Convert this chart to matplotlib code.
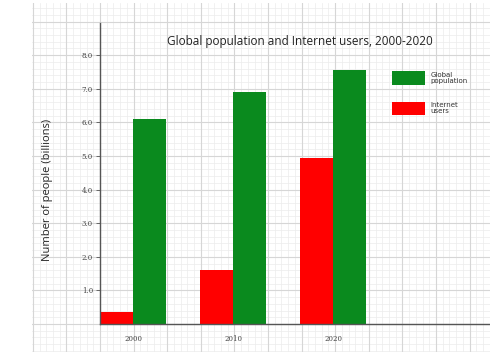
import numpy as np
import matplotlib as mpl
mpl.use('Agg')
import matplotlib.pyplot as plt

# data
years = ["2000", "2010", "2020"]
internet_users = [0.36, 1.6, 4.95]
global_population = [6.1, 6.9, 7.55]
yticks = [1.0, 2.0, 3.0, 4.0, 5.0, 6.0, 7.0, 8.0]

W, H = 490, 352
fig = plt.figure(figsize=(W / 100, H / 100), dpi=100)

# graph-paper background, in pixel units
bg = fig.add_axes([32 / W, 0, 1 - 32 / W, 349 / H])
bg.set_xlim(32, W)
bg.set_ylim(H, 3)
bg.axis('off')
step = 33.6
for k in range(-10, 80):
    x = 100 + k * step / 5
    major = k % 5 == 0
    col = '#d6d6d6' if major else '#ececec'
    lw = 0.8 if major else 0.5
    if 32 <= x <= W:
        bg.axvline(x, color=col, lw=lw, zorder=1 if major else 0)
for k in range(-60, 20):
    y = 324 + k * step / 5
    major = k % 5 == 0
    col = '#d6d6d6' if major else '#ececec'
    lw = 0.8 if major else 0.5
    if 3 <= y <= H:
        bg.axhline(y, color=col, lw=lw, zorder=1 if major else 0)

# main chart
ax = fig.add_axes([100 / W, (H - 324) / H, (W - 100) / W, 301 / H])
ax.patch.set_alpha(0)
x = np.arange(len(years))
w = 0.33
ax.bar(x - w / 2, internet_users, w, color='#ff0000', label='Internet\nusers')
ax.bar(x + w / 2, global_population, w, color='#0a8a1e', label='Global\npopulation')
ax.set_xlim(-w, -w + 3.9)
ax.set_ylim(0, 301 / step)

ax.set_yticks(yticks)
ax.set_yticklabels([f"{v:.1f}" for v in yticks], fontsize=5, color='#444444',
                   family='DejaVu Serif')
ax.set_xticks(x)
ax.set_xticklabels(years, fontsize=5, color='#444444', family='DejaVu Serif')
ax.tick_params(axis='y', length=3, width=0.6, color='#555555', pad=2)
ax.tick_params(axis='x', length=0, pad=8)
for side in ['top', 'right']:
    ax.spines[side].set_visible(False)
ax.spines['left'].set_color('#555555')
ax.spines['bottom'].set_color('#555555')
ax.spines['left'].set_linewidth(1.0)
ax.spines['bottom'].set_linewidth(1.0)

fig.text(300 / W, 1 - 41 / H, "Global population and Internet users, 2000-2020",
         ha='center', va='center', fontsize=8.5, family='Open Sans', color='#222222')
fig.text(48 / W, 1 - 190 / H, "Number of people (billions)", rotation=90,
         ha='center', va='center', fontsize=8, family='Open Sans', color='#222222')

handles, labels = ax.get_legend_handles_labels()
leg = ax.legend(handles[::-1], labels[::-1], loc='upper left',
                bbox_to_anchor=((389 - 100) / (W - 100), 1 - (68 - 23) / 301),
                frameon=False, fontsize=5, handlelength=4.7, handleheight=2.6,
                labelspacing=2.4, handletextpad=0.8, borderpad=0)
for t in leg.get_texts():
    t.set_color('#333333')
    t.set_linespacing(0.9)

fig.savefig('out.png', dpi=100)
